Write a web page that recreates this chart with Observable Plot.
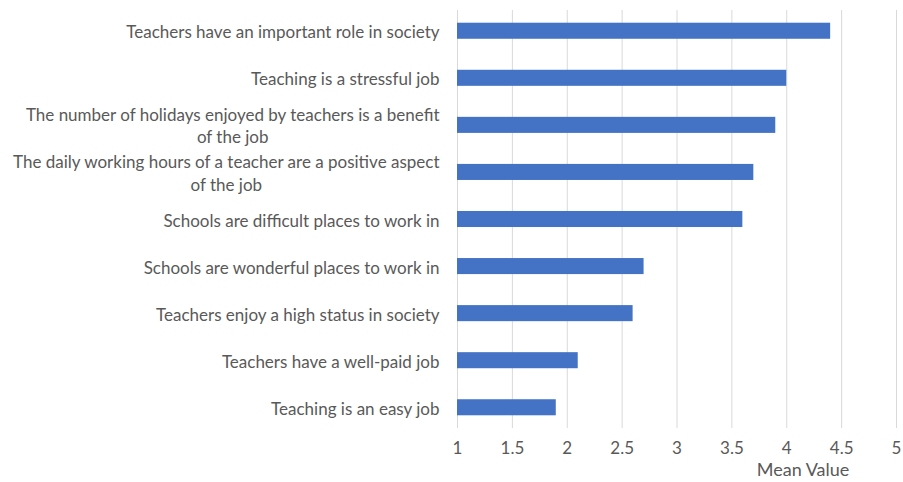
<!DOCTYPE html>
<html>
<head>
<meta charset="utf-8">
<script src="https://cdn.jsdelivr.net/npm/d3@7"></script>
<script src="https://cdn.jsdelivr.net/npm/@observablehq/plot@0.6"></script>
<style>
  html, body { margin: 0; padding: 0; background: #ffffff; }
  #chart svg { display: block; }
</style>
</head>
<body>
<div id="chart"></div>
<script>
// Category labels as shown (line breaks where the chart wraps them)
const statements = [
  "Teachers have an important role in society",
  "Teaching is a stressful job",
  "The number of holidays enjoyed by teachers is a benefit\nof the job",
  "The daily working hours of a teacher are a positive aspect\nof the job",
  "Schools are difficult places to work in",
  "Schools are wonderful places to work in",
  "Teachers enjoy a high status in society",
  "Teachers have a well-paid job",
  "Teaching is an easy job"
];
const means = [4.4, 4.0, 3.9, 3.7, 3.6, 2.7, 2.6, 2.1, 1.9];
const xTicks = [1, 1.5, 2, 2.5, 3, 3.5, 4, 4.5, 5];
const axisTitle = ["Mean Value"];

const data = statements.map((s, i) => ({statement: s, mean: means[i]}));

const chart = Plot.plot({
  width: 903,
  height: 482,
  marginLeft: 457,
  marginRight: 7,
  marginTop: 10,
  marginBottom: 54,
  style: {fontFamily: "Lato, sans-serif", fontSize: "17px", color: "#595959", background: "#ffffff"},
  x: {domain: [1, 5], label: null},
  y: {domain: statements, paddingInner: 0.659, paddingOuter: 0.27, round: false, label: null},
  marks: [
    Plot.gridX(xTicks, {stroke: "#d9d9d9", strokeOpacity: 1, strokeWidth: 1}),
    Plot.barX(data, {x1: 1, x2: "mean", y: "statement", fill: "#4472c4"}),
    Plot.axisX(xTicks, {tickSize: 0, tickPadding: 13, label: null, tickFormat: d => String(d), fill: "#595959", fontSize: 17}),
    Plot.axisY({tickSize: 0, tickPadding: 18, label: null, lineHeight: 1.3, fill: "#595959", fontSize: 17}),
    Plot.text(axisTitle, {frameAnchor: "bottom", dx: 126, dy: 47, fill: "#595959", fontSize: 18})
  ]
});

document.getElementById("chart").appendChild(chart);

// Center wrapped lines under the first (right-aligned) line, as in the original
chart.querySelectorAll("g[aria-label='y-axis tick label'] text").forEach(t => {
  const spans = t.querySelectorAll("tspan");
  if (spans.length > 1) {
    const w = spans[0].getComputedTextLength();
    t.setAttribute("text-anchor", "middle");
    spans.forEach(s => s.setAttribute("x", -w / 2));
  }
});
</script>
</body>
</html>
